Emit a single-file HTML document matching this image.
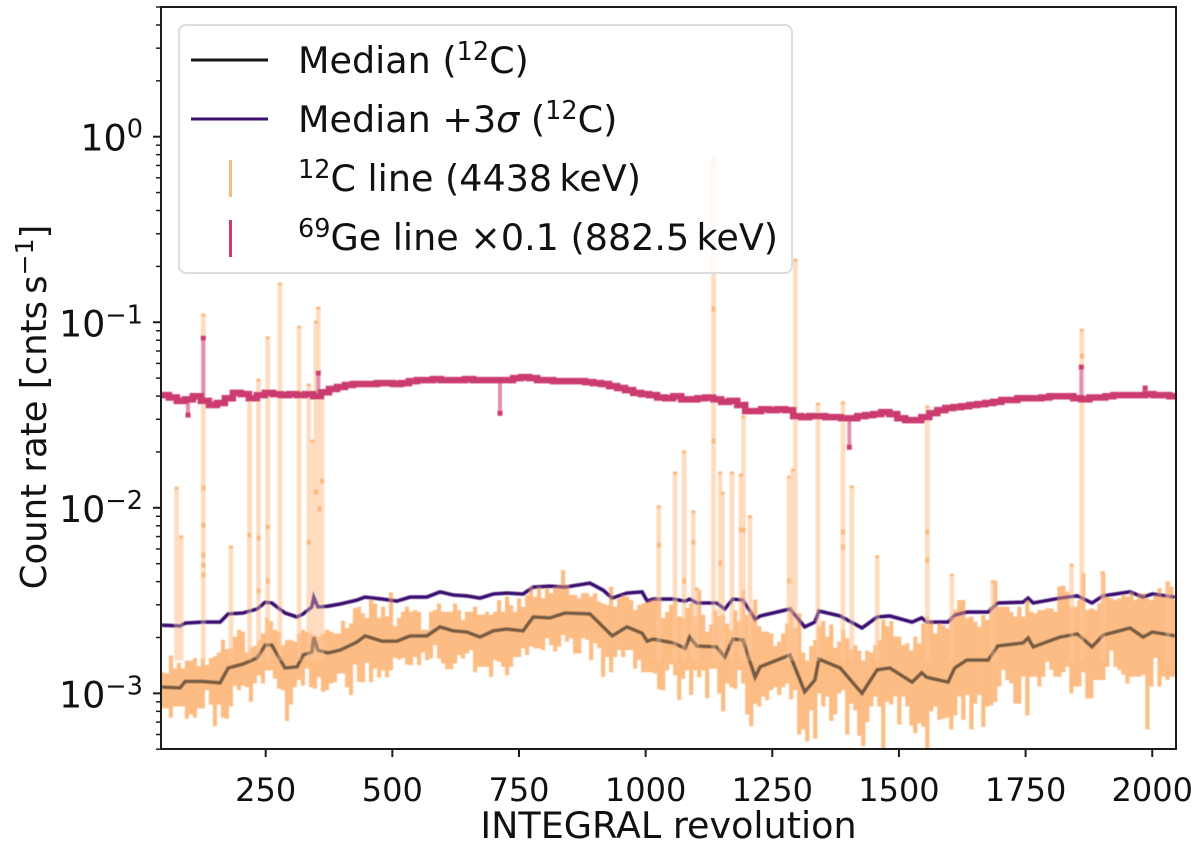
<!DOCTYPE html>
<html lang="en">
<head>
<meta charset="utf-8">
<title>INTEGRAL count rates</title>
<style>
html,body{margin:0;padding:0;background:#fff;width:1200px;height:848px;overflow:hidden}
svg{display:block}
text{font-family:"DejaVu Sans","Liberation Sans",sans-serif;fill:#111}
</style>
</head>
<body>
<svg id="chart" xmlns="http://www.w3.org/2000/svg" width="1200" height="848" viewBox="0 0 1200 848">
  <defs>
    <clipPath id="plot-clip"><rect x="161" y="7" width="1015" height="742"/></clipPath>
    <filter id="soft" x="-2%" y="-2%" width="104%" height="104%"><feGaussianBlur stdDeviation="0.55"/></filter>
  </defs>
  <rect x="0" y="0" width="1200" height="848" fill="#fff"/>
  <g id="marks" clip-path="url(#plot-clip)" filter="url(#soft)"></g>
  <g id="axes"></g>
  <rect x="161" y="7" width="1015" height="742" fill="none" stroke="#1c1c1c" stroke-width="2"/>
  <text x="668.5" y="838" font-size="36.5" text-anchor="middle">INTEGRAL revolution</text>
  <text transform="translate(46 407) rotate(-90)" font-size="35.5" text-anchor="middle">Count rate [cnts&#8201;s<tspan dy="-13" font-size="25">−1</tspan><tspan dy="13">]</tspan></text>

  <g>
    <rect x="179" y="25" width="613" height="248" rx="7" ry="7" fill="#fff" fill-opacity="0.8" stroke="#dcdcdc" stroke-width="2"/>
    <line x1="191" y1="60" x2="268" y2="60" stroke="#161616" stroke-width="3"/>
    <line x1="191" y1="119" x2="268" y2="119" stroke="#3b0f70" stroke-width="3"/>
    <line x1="230.500" y1="160" x2="230.500" y2="197" stroke="#fdb97d" stroke-width="3"/>
    <line x1="230.500" y1="220" x2="230.500" y2="257" stroke="#cb3a70" stroke-width="3"/>
    <text x="298" y="73" font-size="36.5">Median (<tspan dy="-13" font-size="25.5">12</tspan><tspan dy="13">C)</tspan></text>
    <text x="298" y="132" font-size="36.5">Median +3<tspan font-style="italic">σ</tspan> (<tspan dy="-13" font-size="25.5">12</tspan><tspan dy="13">C)</tspan></text>
    <text x="298" y="191" font-size="36.5"><tspan dy="-13" font-size="25.5">12</tspan><tspan dy="13">C line (4438&#8201;keV)</tspan></text>
    <text x="298" y="250" font-size="36.5"><tspan dy="-13" font-size="25.5">69</tspan><tspan dy="13">Ge line ×0.1 (882.5&#8201;keV)</tspan></text>
  </g>
</svg>
<script>
// x tick labels, y decade exponents
var xTickLabels = [250, 500, 750, 1000, 1250, 1500, 1750, 2000];
var yDecades = [0, -1, -2, -3];

// 12C line: lower and upper edge of each revolution bin, in 10^-3 cnt/s
var carbonLow = [
.83,.83,.74,.85,.85,.85,.73,.77,.74,.83,
.83,1.04,.87,.665,.87,.74,.73,.85,1.10,1.04,
1.10,1.08,.90,1.13,1.25,1.13,1.33,1.33,1.2,1.06,
1.04,.71,.87,1.08,1.18,1.10,1.36,1.08,1.06,1.22,
1.02,1.04,1.13,1.15,1.28,1.28,1.08,.98,1.43,1.15,
1.15,1.46,1.15,1.36,1.22,1.33,1.22,1.33,1.55,1.52,
1.55,1.43,
1.42,1.57,1.42,1.66,1.51,1.54,1.82,1.54,1.45,1.35,
1.35,1.45,1.61,1.54,1.64,1.71,1.30,1.39,1.39,1.39,
1.23,1.51,1.48,1.39,1.25,1.39,1.57,1.57,1.75,1.61,
1.79,1.75,1.75,1.71,1.98,1.82,1.68,1.79,2.06,1.90,
1.98,1.64,1.64,1.98,1.94,1.51,1.86,1.75,1.23,1.57,
1.30,1.57,1.71,1.57,1.71,1.71,1.36,1.51,1.30,1.30,
1.30,1.28,1.05,
1.04,1.33,1.43,1.25,.92,1.2,1.33,.98,1.33,1.22,
1.33,.94,1.36,1.36,1.0,.80,1.13,1.08,1.06,1.33,
1.13,.77,.665,.88,.85,.96,.92,1.04,1.08,.98,
1.08,1.13,.93,1.04,.6,.64,.55,.81,.57,1.0,
.85,.96,.71,.77,1.0,1.04,.6,.88,.81,.59,
.52,.7,.85,.96,.85,.5,.9,.87,.96,.68,
.96,.85,.67,.61,.69,
.66,.5,.8,.85,.72,.73,.74,.64,.76,.96,
.72,.98,.64,.88,.98,.66,.85,.86,.9,1.09,
1.34,1.18,1.13,.88,.88,1.23,.76,1.23,1.23,1.09,
1.23,1.48,1.34,1.23,1.23,1.3,1.39,1.0,1.09,1.09,
1.3,.94,.94,1.18,1.18,1.18,1.39,1.7,1.39,1.34,
1.26,1.13,1.23,1.23,1.23,1.26,.64,1.09,1.55,1.09,
1.23,1.18,1.23,1.23
];
var carbonHigh = [
1.3,1.28,1.6,1.36,1.46,1.36,1.5,1.5,1.55,1.4,
1.55,1.42,1.55,1.58,1.66,1.94,1.73,1.76,2.02,2.2,
2.15,1.66,1.76,1.8,1.94,2.1,2.55,2.45,2.2,2.15,
1.82,1.94,1.94,1.9,2.1,2.2,2.15,2.1,2.06,2.02,
2.1,2.2,2.15,2.1,2.1,2.46,2.25,2.38,2.88,2.93,
2.7,2.55,3.2,3.05,2.55,2.93,2.6,3.5,2.3,2.55,
2.75,2.93,
2.75,2.81,2.75,2.2,2.2,2.75,2.81,3.05,2.75,2.75,
2.75,3.05,2.81,2.48,2.75,2.75,2.93,2.65,2.65,2.75,
2.65,2.75,3.18,2.75,3.32,2.99,2.75,3.25,2.93,3.39,
3.76,3.32,3.76,3.25,3.68,3.46,3.76,3.85,4.62,3.85,
3.39,3.39,3.25,3.46,3.46,3.32,3.46,3.12,3.05,2.99,
3.76,2.93,3.25,3.39,3.32,3.18,2.81,2.99,3.05,3.12,
3.18,3.25,3.3,
2.55,2.75,3.0,3.2,2.6,2.55,2.88,3.05,2.6,3.6,
2.65,2.15,2.35,2.8,2.6,2.65,2.38,2.2,2.8,2.45,
3.6,2.65,2.8,3.2,2.3,2.15,2.15,2.1,1.8,1.9,
2.1,2.38,2.93,2.25,2.7,1.66,1.5,1.8,1.94,2.3,
2.45,2.02,2.35,1.76,1.9,2.2,1.98,1.73,1.82,1.7,
1.5,1.7,1.66,1.82,1.94,2.5,2.3,2.45,2.02,2.02,
1.82,1.86,1.7,2.02,1.86,
2.38,2.6,2.48,2.1,2.38,2.33,2.24,2.59,2.81,3.18,
3.18,2.54,2.59,2.43,2.28,2.64,2.48,2.93,4.05,2.93,
2.93,2.93,2.75,2.59,2.93,2.59,3.18,2.75,2.7,2.81,
2.81,2.87,2.87,2.75,3.76,3.8,3.53,2.93,2.93,3.18,
4.44,2.81,2.87,2.81,3.05,4.44,3.32,3.25,3.18,3.25,
3.39,3.32,3.53,3.18,3.46,3.46,3.25,3.18,3.39,3.68,
3.32,3.95,3.76,3.18
];
var binStartRev = 47;
var binStepRev = 7.9;

// 12C flare spikes: revolution and peak rate in cnt/s
var spikeRevs = [74,83,127,181.5,218,236,254,278,316,335,342,349,354,361,1026,1058,1076,1094,1101,1134,1147,1152,1170.5,1188,1193,1206,1283,1291,1295.5,1340,1389.5,1407,1457,1556,1604.5,1685.5,1841,1861,1902,2031];
var spikeRates = [.01277,.00698,.1093,.00615,.042,.0488,.0825,.1606,.0942,.0459,.0229,.1002,.1193,.0405,.01013,.01539,.02005,.00952,.00365,.749,.01539,.012,.01539,.015,.0309,.00895,.01464,.01597,.2163,.03624,.0368,.01298,.00545,.035,.00434,.00399,.00491,.0907,.00447,.00393];
var spikeFloor = 0.0015;
// Darker overlapping points along the spikes
var knotRevs = [127,127,127,127,127,218,236,236,254,254,361,349,356,335,1026,1094,1076,1193,1147,1188,1283,1389.5,1389.5,1556,1556,1134,1134,1861];
var knotRates = [.01277,.00807,.00556,.00491,.00434,.00713,.00687,.00356,.00787,.00403,.01393,.01216,.00984,.00653,.0063,.00653,.00403,.00759,.00504,.00759,.00403,.0074,.00614,.0074,.00522,.1178,.0229,.0658];

// Knots shared by the two median curves
var lineRevs = [45,81,91,126,160,176,205,233,249,262,288,312,324,341,345,353,373,397,430,446,480,509,535,568,594,620,647,673,699,726,758,778,811,841,890,916,934,963,993,1003,1015,1054,1078,1087,1101,1140,1156,1172,1192,1216,1226,1285,1314,1334,1342,1384,1427,1457,1482,1526,1545,1555,1597,1610,1634,1676,1695,1745,1755,1765,1818,1852,1881,1903,1956,1982,2000,2045];
// Median in 10^-3 cnt/s
var medianRates = [1.08,1.07,1.16,1.16,1.14,1.37,1.44,1.55,1.82,1.82,1.37,1.39,1.61,1.67,2.01,1.71,1.65,1.71,1.89,2.04,1.91,1.91,2.04,2.04,2.28,2.17,2.14,2.01,2.17,2.22,2.17,2.58,2.55,2.71,2.68,2.28,2.04,2.28,2.11,1.91,1.96,1.87,1.75,2.01,1.80,1.78,1.57,1.96,1.94,1.22,1.39,1.61,1.02,1.18,1.53,1.37,1.00,1.34,1.37,1.15,1.29,1.22,1.15,1.37,1.51,1.51,1.80,1.87,1.99,1.78,2.01,2.09,1.78,2.06,2.25,2.01,2.14,2.04];
// Median + 3 sigma in 10^-3 cnt/s
var sigmaRates = [2.33,2.31,2.39,2.42,2.42,2.68,2.71,2.85,3.10,3.07,2.71,2.58,2.68,2.92,3.30,2.92,2.95,3.03,3.18,3.30,3.22,3.14,3.30,3.30,3.52,3.39,3.35,3.26,3.43,3.47,3.43,3.74,3.78,3.74,3.93,3.60,3.26,3.47,3.52,3.14,3.22,3.22,3.14,3.22,3.07,3.07,2.85,3.22,3.18,2.51,2.61,2.85,2.28,2.42,2.78,2.61,2.25,2.58,2.61,2.42,2.55,2.42,2.42,2.64,2.74,2.74,3.07,3.10,3.26,3.07,3.26,3.35,3.07,3.35,3.52,3.30,3.43,3.30];

// 69Ge line x 0.1, rate in cnt/s per 16-revolution bin
var germaniumRates = [
.0405,.0393,.0377,.0384,.0399,.0377,.0358,.0367,.0389,.0416,
.0410,.0389,.0405,.0416,.0410,.0405,.0410,.0405,.0410,.0399,
.0420,.0437,.0448,.0459,.0465,.0465,.0465,.0470,.0470,.0465,
.0470,.0482,.0488,.0488,.0494,.0488,.0488,.0488,.0494,.0488,
.0488,.0488,.0488,.0488,.0500,.0506,.0500,.0488,.0488,.0482,
.0482,.0482,.0482,.0476,.0470,.0465,.0453,.0442,.0431,.0416,
.0410,.0405,.0393,.0389,.0399,.0384,.0384,.0389,.0393,.0384,
.0372,.0377,.0358,.0332,.0332,.0340,.0336,.0340,.0336,.0312,
.0308,.0312,.0312,.0308,.0308,.0304,.0304,.0312,.0316,.0320,
.0328,.0320,.0304,.0297,.0297,.0308,.0324,.0336,.0345,.0349,
.0353,.0358,.0362,.0367,.0372,.0381,.0381,.0389,.0389,.0389,
.0393,.0399,.0399,.0399,.0389,.0384,.0393,.0393,.0399,.0405,
.0405,.0405,.0405,.0410,.0405,.0405,.0399
];
var germaniumStartRev = 51;
var germaniumStepRev = 15.8;
// Outlying 69Ge points
var germaniumOutlierRevs = [96.6,712.5,126.8,353.8,1402,1860,1986];
var germaniumOutlierRates = [.0316,.0323,.0822,.0532,.0212,.0574,.0442];

var NS = 'http://www.w3.org/2000/svg';
function xAxis(rev){ return 265.7 + (rev - 250) * 0.5066; }
function yAxis(rate){ return 136.7 - Math.log10(rate) * 185.55; }
function make(tag, parent, attrs){
  var el = document.createElementNS(NS, tag);
  for (var k in attrs) el.setAttribute(k, attrs[k]);
  parent.appendChild(el);
  return el;
}
var marks = document.getElementById('marks');
var axes = document.getElementById('axes');

// Spikes (light)
var spikeGroup = make('g', marks, {id:'spike-group'});


spikeRevs.forEach(function(rev, i){
  var top = yAxis(spikeRates[i]);
  var bottom = yAxis(spikeFloor);
  var bar = make('rect', spikeGroup, {x:xAxis(rev)-2.3, y:top, width:4.6, height:Math.max(0,bottom-top), fill:'#fedcc0'});
  
  
});

// Carbon band
var bandGroup = make('g', marks, {id:'band-group'});


carbonHigh.forEach(function(hi, i){
  var rev = binStartRev + binStepRev * i;
  var top = yAxis(hi * 1e-3);
  var bottom = yAxis(carbonLow[i] * 1e-3);
  var bar = make('rect', bandGroup, {x:xAxis(rev)-2, y:top, width:4.1, height:bottom-top, fill:'#fdbc83'});
  
  
});

function linePoints(values){
  return lineRevs.map(function(rev, i){
    return xAxis(rev).toFixed(1) + ',' + yAxis(values[i] * 1e-3).toFixed(1);
  }).join(' ');
}
var sigmaLine = make('polyline', marks, {points:linePoints(sigmaRates), fill:'none', stroke:'#3b0f70', 'stroke-width':3.6});


var medianLine = make('polyline', marks, {points:linePoints(medianRates), fill:'none', stroke:'#161616', 'stroke-width':3.6});



// Orange drawn over the lines, as in the original stacking
var spikeOverlay = make('use', marks, {href:'#spike-group', opacity:0.35});


var bandOverlay = make('use', marks, {href:'#band-group', opacity:0.42});



// Caps and inner points on spikes
spikeRevs.forEach(function(rev, i){
  var cap = make('rect', marks, {x:xAxis(rev)-2, y:yAxis(spikeRates[i])-1.5, width:4, height:3, fill:'#fdb97d'});
  
  
});
knotRevs.forEach(function(rev, i){
  var knot = make('rect', marks, {x:xAxis(rev)-2, y:yAxis(knotRates[i])-2.5, width:4, height:5, fill:'#fdb97d'});
  
  
});

// Germanium outliers, then the stepped germanium line
germaniumOutlierRevs.forEach(function(rev, i){
  var idx = Math.round((rev - germaniumStartRev) / germaniumStepRev);
  var a = yAxis(germaniumRates[Math.max(0, Math.min(idx, germaniumRates.length - 1))]);
  var b = yAxis(germaniumOutlierRates[i]);
  var stem = make('rect', marks, {x:xAxis(rev)-2, y:Math.min(a,b), width:4, height:Math.abs(a-b), fill:'#e28fae'});
  
  
  var tip = make('rect', marks, {x:xAxis(rev)-2.5, y:b-2.5, width:5, height:5, fill:'#cb3a70'});
  
  
});
var stepPts = [];
germaniumRates.forEach(function(rate, i){
  var rev = germaniumStartRev + germaniumStepRev * i;
  var y = yAxis(rate).toFixed(1);
  stepPts.push(xAxis(rev - germaniumStepRev / 2).toFixed(1) + ',' + y);
  stepPts.push(xAxis(rev + germaniumStepRev / 2).toFixed(1) + ',' + y);
});
var geLine = make('polyline', marks, {points:stepPts.join(' '), fill:'none', stroke:'#cb3a70', 'stroke-width':6.5});



// X ticks
xTickLabels.forEach(function(value){
  var x = xAxis(value);
  var tick = make('line', axes, {x1:x, x2:x, y1:749, y2:757, stroke:'#1c1c1c', 'stroke-width':2});
  
  
  var label = make('text', axes, {x:x, y:801, 'font-size':32, 'text-anchor':'middle'});
  label.textContent = value;
  
  
});

// Y ticks
yDecades.forEach(function(exp){
  var y = yAxis(Math.pow(10, exp));
  var tick = make('line', axes, {x1:153, x2:161, y1:y, y2:y, stroke:'#1c1c1c', 'stroke-width':2});
  
  
  var label = make('text', axes, {x:143, y:y+14, 'font-size':36.5, 'text-anchor':'end'});
  
  
  var base = make('tspan', label, {});
  base.textContent = '10';
  var sup = make('tspan', label, {dy:-13, 'font-size':25.5});
  sup.textContent = exp < 0 ? '\u2212' + (-exp) : String(exp);
});
for (var d = -4; d <= 0; d++) {
  for (var m = 2; m <= 9; m++) {
    var rate = m * Math.pow(10, d);
    if (rate < 5e-4 || rate > 5) continue;
    var y = yAxis(rate);
    var minor = make('line', axes, {x1:156, x2:161, y1:y, y2:y, stroke:'#1c1c1c', 'stroke-width':1.5});
    
    
  }
}
</script>
</body>
</html>
